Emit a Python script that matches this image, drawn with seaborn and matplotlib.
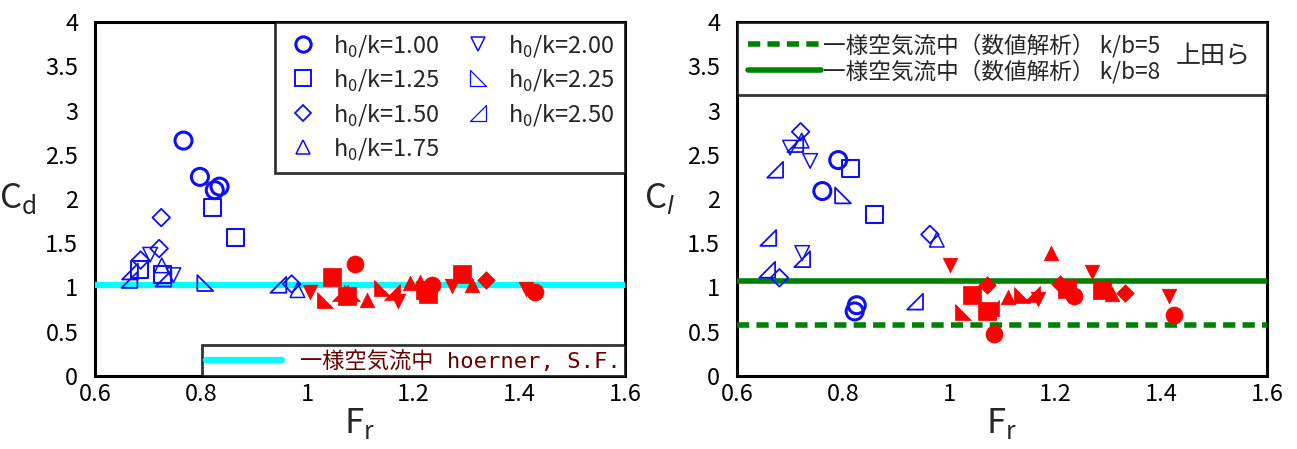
import matplotlib
matplotlib.use("Agg")
import matplotlib.pyplot as plt
from matplotlib.path import Path
from matplotlib.lines import Line2D
import seaborn as sns
import pandas as pd

# h0/k groups (legend order)
groups = ["1.00", "1.25", "1.50", "1.75", "2.00", "2.25", "2.50"]

# Drag coefficient Cd: open markers (Fr < 1)
cd_open_fr = [[0.767, 0.798, 0.835, 0.826], [0.821, 0.865, 0.684, 0.727],
              [0.725, 0.721, 0.686, 0.971], [0.726, 0.982], [0.704, 0.748],
              [0.808], [0.666, 0.665, 0.729, 0.946]]
cd_open_val = [[2.66, 2.25, 2.14, 2.10], [1.90, 1.56, 1.20, 1.15],
               [1.79, 1.44, 1.31, 1.04], [1.25, 0.97], [1.37, 1.14],
               [1.05], [1.18, 1.085, 1.10, 1.03]]
# Drag coefficient Cd: filled markers (Fr > 1)
cd_fill_fr = [[1.09, 1.235, 1.43], [1.048, 1.075, 1.222, 1.228, 1.292],
              [1.338], [1.113, 1.194, 1.213, 1.311], [1.006, 1.172, 1.273, 1.413],
              [1.034, 1.085, 1.141], [1.062, 1.16]]
cd_fill_val = [[1.27, 1.03, 0.95], [1.12, 0.90, 0.97, 0.93, 1.15],
               [1.09], [0.86, 1.05, 1.06, 1.03], [0.95, 0.85, 1.02, 0.98],
               [0.86, 0.94, 0.99], [0.94, 0.95]]

# Lift coefficient Cl: open markers
cl_open_fr = [[0.791, 0.761, 0.826, 0.822], [0.815, 0.86], [0.72, 0.964, 0.68],
              [0.722, 0.977], [0.70, 0.738, 0.723], [0.80],
              [0.672, 0.659, 0.657, 0.723, 0.936, 0.71]]
cl_open_val = [[2.44, 2.09, 0.80, 0.73], [2.34, 1.82], [2.76, 1.60, 1.11],
               [2.66, 1.54], [2.58, 2.43, 1.39], [2.04],
               [2.33, 1.56, 1.20, 1.32, 0.84, 2.62]]
# Lift coefficient Cl: filled markers
cl_fill_fr = [[1.085, 1.235, 1.425], [1.043, 1.071, 1.222, 1.288],
              [1.072, 1.209, 1.333], [1.192, 1.112, 1.307],
              [1.002, 1.27, 1.415, 1.167], [1.027, 1.137], [1.08, 1.156]]
cl_fill_val = [[0.47, 0.90, 0.69], [0.91, 0.74, 0.98, 0.97],
               [1.03, 1.04, 0.94], [1.39, 0.89, 0.93],
               [1.25, 1.17, 0.90, 0.87], [0.72, 0.92], [0.77, 0.93]]

# Reference values
cd_hoerner = 1.03
cl_kb5 = 0.58
cl_kb8 = 1.07

x_ticks = [0.6, 0.8, 1.0, 1.2, 1.4, 1.6]
x_ticklabels = ["0.6", "0.8", "1", "1.2", "1.4", "1.6"]
y_ticks = [0, 0.5, 1, 1.5, 2, 2.5, 3, 3.5, 4]
y_ticklabels = ["0", "0.5", "1", "1.5", "2", "2.5", "3", "3.5", "4"]

sns.set_theme(style="white")
plt.rcParams["font.family"] = ["Noto Sans CJK JP", "DejaVu Sans"]
plt.rcParams["mathtext.fontset"] = "custom"
plt.rcParams["mathtext.rm"] = "Noto Sans CJK JP"
plt.rcParams["mathtext.it"] = "DejaVu Sans:italic"

# right-angle triangle markers
tri_225 = Path([(-1, 1), (-1, -1), (1, -1), (-1, 1)],
               [Path.MOVETO, Path.LINETO, Path.LINETO, Path.CLOSEPOLY])
tri_250 = Path([(1, 1), (1, -1), (-1, -1), (1, 1)],
               [Path.MOVETO, Path.LINETO, Path.LINETO, Path.CLOSEPOLY])
markers = ["o", "s", "D", "^", "v", tri_225, tri_250]
sizes = [150, 150, 80, 110, 110, 130, 130]
open_lw = [2.2, 1.5, 1.3, 1.1, 1.1, 1.3, 1.3]

BLUE = "#1010ee"
RED = "#ff0000"
MONO_CJK = ["DejaVu Sans Mono", "Noto Sans CJK JP"]

fig = plt.figure(figsize=(12.97, 4.49), dpi=100)
ax1 = fig.add_axes([95 / 1297, 1 - 376 / 449, 530 / 1297, 354 / 449])
ax2 = fig.add_axes([737 / 1297, 1 - 376 / 449, 530 / 1297, 354 / 449])


def draw_points(ax, ofr, oval, ffr, fval):
    for i, g in enumerate(groups):
        df_o = pd.DataFrame({"Fr": ofr[i], "C": oval[i]})
        sns.scatterplot(data=df_o, x="Fr", y="C", ax=ax, marker=markers[i],
                        s=sizes[i], facecolors="none", edgecolor=BLUE,
                        linewidth=open_lw[i], zorder=4, legend=False)
        df_f = pd.DataFrame({"Fr": ffr[i], "C": fval[i]})
        sns.scatterplot(data=df_f, x="Fr", y="C", ax=ax, marker=markers[i],
                        s=sizes[i], color=RED, edgecolor=RED, linewidth=0.5,
                        zorder=4, legend=False)


def style_axes(ax):
    ax.set_xlim(0.6, 1.6)
    ax.set_ylim(0, 4)
    ax.set_xticks(x_ticks)
    ax.set_xticklabels(x_ticklabels)
    ax.set_yticks(y_ticks)
    ax.set_yticklabels(y_ticklabels)
    ax.tick_params(axis="both", direction="in", length=7, width=1.2,
                   labelsize=17, colors="black")
    ax.tick_params(axis="y", pad=12)
    ax.tick_params(axis="x", length=0, pad=5)
    for sp in ax.spines.values():
        sp.set_color("black")
        sp.set_linewidth(2.2)
        sp.set_visible(True)
    ax.set_facecolor("white")


# ---- Cd panel ----
draw_points(ax1, cd_open_fr, cd_open_val, cd_fill_fr, cd_fill_val)
sns.lineplot(x=[0.6, 1.6], y=[cd_hoerner, cd_hoerner], ax=ax1, color="#00ffff",
             linewidth=4.5, zorder=3)
style_axes(ax1)
ax1.set_xlabel(r"F$_\mathregular{r}$", fontsize=25, labelpad=0)
ax1.set_ylabel(r"C$_\mathregular{d}$", fontsize=25, rotation=0, labelpad=20,
               va="center")

h_handles = [Line2D([], [], linestyle="none", marker=markers[i],
                    markersize=[11, 11, 8, 10, 10, 11, 11][i],
                    markerfacecolor="none", markeredgecolor=BLUE,
                    markeredgewidth=[2.2, 1.4, 1.3, 1.1, 1.1, 0.9, 0.9][i])
             for i in range(len(groups))]
h_labels = [r"h$_\mathregular{0}$/k=" + g for g in groups]
leg1 = ax1.legend(h_handles, h_labels, ncol=2, loc="upper right",
                  bbox_to_anchor=(1.0, 1.0), borderaxespad=0, fontsize=17,
                  frameon=True, fancybox=False, edgecolor="black",
                  handletextpad=0.5, columnspacing=0.9, labelspacing=0.36,
                  borderpad=0.45, handlelength=1.5)
leg1.get_frame().set_linewidth(2)
ax1.add_artist(leg1)

hoerner_handle = [Line2D([], [], color="#00ffff", linewidth=4.5)]
leg2 = ax1.legend(hoerner_handle, ["一様空気流中 hoerner, S.F."],
                  loc="lower right", bbox_to_anchor=(1.0, 0.0),
                  borderaxespad=0, frameon=True, fancybox=False,
                  edgecolor="black", handlelength=3.4, borderpad=0.2,
                  handletextpad=0.8,
                  prop={"family": MONO_CJK, "size": 16})
leg2.get_frame().set_linewidth(2)
for t in leg2.get_texts():
    t.set_color("#660000")

# ---- Cl panel ----
draw_points(ax2, cl_open_fr, cl_open_val, cl_fill_fr, cl_fill_val)
sns.lineplot(x=[0.6, 1.6], y=[cl_kb5, cl_kb5], ax=ax2, color="#008000",
             linewidth=4, linestyle=(0, (2.2, 1.3)), zorder=3)
sns.lineplot(x=[0.6, 1.6], y=[cl_kb8, cl_kb8], ax=ax2, color="#008000",
             linewidth=4, zorder=3)
style_axes(ax2)
ax2.set_xlabel(r"F$_\mathregular{r}$", fontsize=25, labelpad=0)
ax2.set_ylabel(r"C$_{\mathit{l}}$", fontsize=25, rotation=0, labelpad=20,
               va="center")

cl_handles = [Line2D([], [], color="#008000", linewidth=4,
                     linestyle=(0, (2.2, 1.3))),
              Line2D([], [], color="#008000", linewidth=4)]
cl_labels = ["一様空気流中（数値解析） k/b=5", "一様空気流中（数値解析） k/b=8"]
leg3 = ax2.legend(cl_handles, cl_labels, loc="upper left",
                  bbox_to_anchor=(0.0, 0.785, 1.0, 0.215), mode="expand",
                  borderaxespad=0, fontsize=16.3, frameon=True, fancybox=False,
                  edgecolor="black", handlelength=3.2, handletextpad=0.1,
                  labelspacing=0.1, borderpad=0.5)
leg3.get_frame().set_linewidth(2)
ax2.text(0.97, 0.905, "上田ら", transform=ax2.transAxes, fontsize=18,
         ha="right", va="center", zorder=6)

fig.savefig("out.png", dpi=100, facecolor="white")
